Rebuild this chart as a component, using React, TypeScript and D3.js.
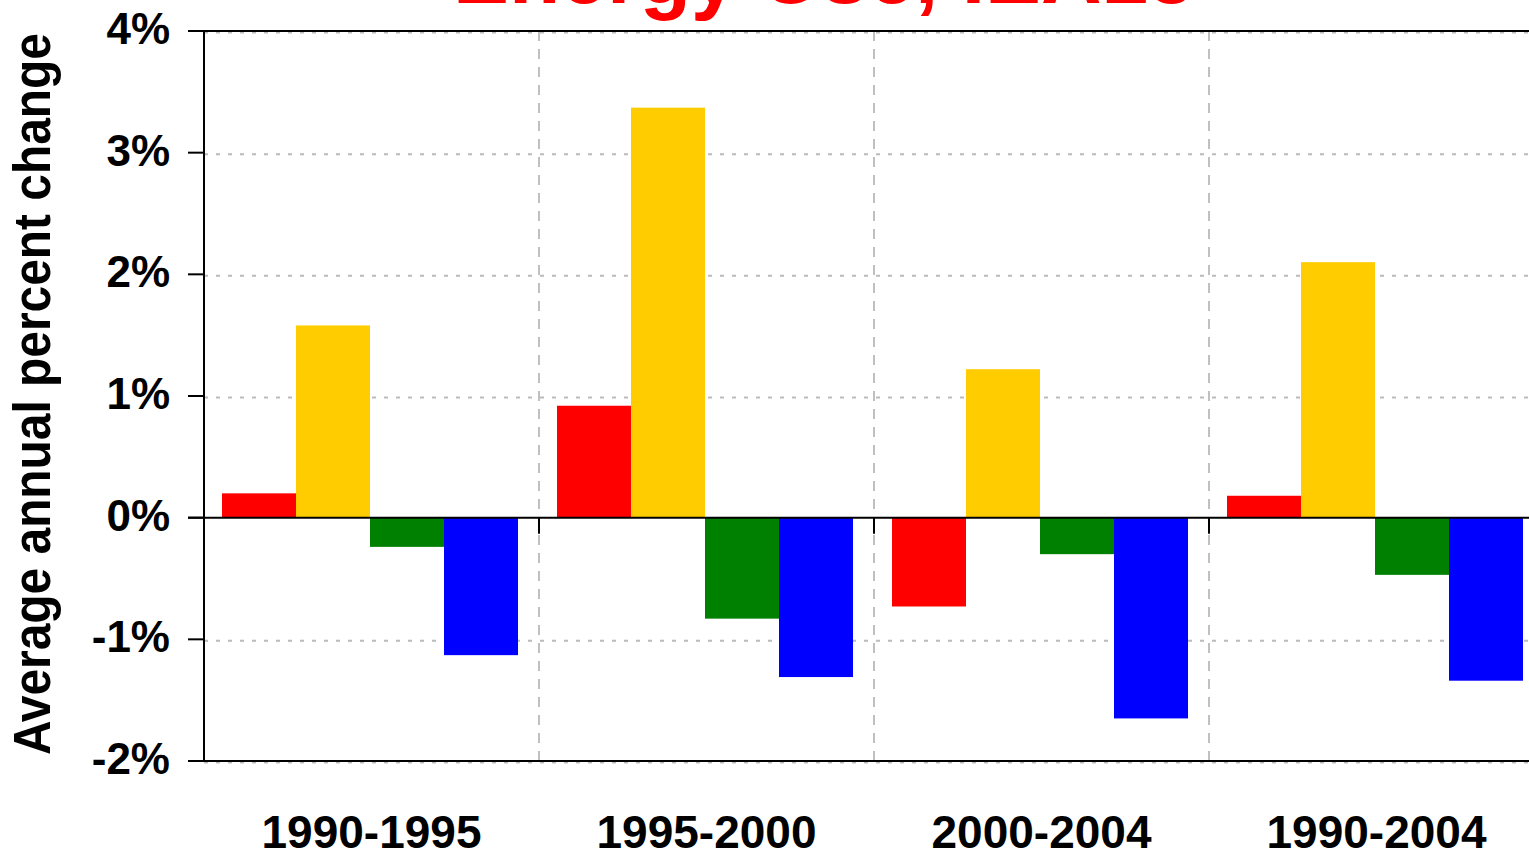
import React from "react";
import * as d3 from "d3";

const categories = ["1990-1995", "1995-2000", "2000-2004", "1990-2004"];
const seriesNames = ["s1", "s2", "s3", "s4"];
const seriesColors = ["#ff0000", "#ffcc00", "#008000", "#0000ff"];
const s1Values = [0.2, 0.92, -0.73, 0.18];
const s2Values = [1.58, 3.37, 1.22, 2.1];
const s3Values = [-0.24, -0.83, -0.3, -0.47];
const s4Values = [-1.13, -1.31, -1.65, -1.34];
const yTicks = [-2, -1, 0, 1, 2, 3, 4];
const titleText = "Energy Use, IEA15";
const yTitle = "Average annual percent change";

const W = 1529;
const H = 853;
const FONT = "'Liberation Sans', Arial, sans-serif";

export default function App() {
  const seriesValues = [s1Values, s2Values, s3Values, s4Values];
  const left = 204;
  const bandW = 335;
  const x = d3
    .scaleBand<string>()
    .domain(categories)
    .range([left, left + bandW * categories.length])
    .padding(0);
  const xs = d3.scaleBand<string>().domain(seriesNames).range([18, 314]).padding(0);
  const y = d3.scaleLinear().domain([-2, 4]).range([761, 31]);
  const y0 = y(0);

  return (
    <svg width={W} height={H} style={{ position: "absolute", left: 0, top: 0, background: "#fff" }}>
      <rect x={0} y={0} width={W} height={H} fill="#fff" />
      <text
        x={824}
        y={3}
        textAnchor="middle"
        fill="#ff0000"
        fontFamily={FONT}
        fontWeight="bold"
        fontSize={85}
        textLength={742}
        lengthAdjust="spacingAndGlyphs"
      >
        {titleText}
      </text>

      {/* horizontal grid */}
      {yTicks
        .filter((t) => t !== 0)
        .map((t) => (
          <line
            key={"g" + t}
            x1={left}
            x2={W}
            y1={y(t) + 1.5}
            y2={y(t) + 1.5}
            stroke="#bbbbbb"
            strokeWidth={2}
            strokeDasharray="4,8"
          />
        ))}
      {/* vertical grid */}
      {categories.slice(1).map((c) => (
        <line
          key={"v" + c}
          x1={x(c)!}
          x2={x(c)!}
          y1={y(4)}
          y2={y(-2)}
          stroke="#c0c0c0"
          strokeWidth={2}
          strokeDasharray="10,8"
        />
      ))}

      {/* bars */}
      {categories.map((c, ci) =>
        seriesNames.map((s, si) => {
          const v = seriesValues[si][ci];
          const bx = x(c)! + xs(s)!;
          return (
            <rect
              key={c + s}
              x={bx}
              y={Math.min(y(v), y0)}
              width={xs.bandwidth()}
              height={Math.abs(y(v) - y0)}
              fill={seriesColors[si]}
            />
          );
        })
      )}

      {/* axis lines */}
      <line x1={left} x2={left} y1={y(4)} y2={y(-2)} stroke="#000" strokeWidth={2} />
      <line x1={left - 16} x2={W} y1={y(4)} y2={y(4)} stroke="#000" strokeWidth={2} />
      <line x1={left - 16} x2={W} y1={y(-2)} y2={y(-2)} stroke="#000" strokeWidth={2} />
      <line x1={left - 16} x2={W} y1={y0} y2={y0} stroke="#000" strokeWidth={2} />
      {yTicks.map((t) => (
        <line key={"t" + t} x1={left - 16} x2={left} y1={y(t)} y2={y(t)} stroke="#000" strokeWidth={2} />
      ))}
      {categories.slice(1).map((c) => (
        <line key={"zt" + c} x1={x(c)!} x2={x(c)!} y1={y0} y2={y0 + 16} stroke="#000" strokeWidth={2} />
      ))}

      {/* y tick labels */}
      {yTicks.map((t) => (
        <text
          key={"l" + t}
          x={170}
          y={y(t) + 13}
          textAnchor="end"
          fontFamily={FONT}
          fontWeight="bold"
          fontSize={44}
          fill="#000"
        >
          {t + "%"}
        </text>
      ))}

      {/* x labels */}
      {categories.map((c) => (
        <text
          key={"x" + c}
          x={x(c)! + x.bandwidth() / 2}
          y={848}
          textAnchor="middle"
          fontFamily={FONT}
          fontWeight="bold"
          fontSize={46}
          fill="#000"
        >
          {c}
        </text>
      ))}

      <text
        transform={`translate(50,394) rotate(-90)`}
        textAnchor="middle"
        fontFamily={FONT}
        fontWeight="bold"
        fontSize={51}
        textLength={722}
        lengthAdjust="spacingAndGlyphs"
        fill="#000"
      >
        {yTitle}
      </text>
    </svg>
  );
}
